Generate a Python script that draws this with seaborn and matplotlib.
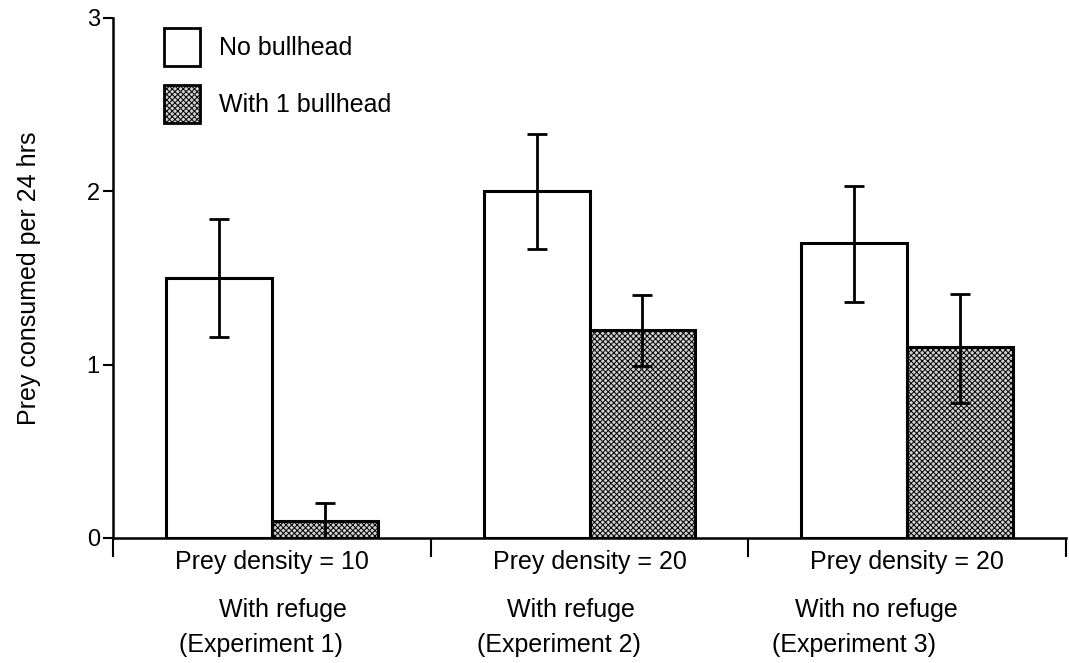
import matplotlib
matplotlib.use("Agg")
import matplotlib.pyplot as plt
from matplotlib.patches import Patch
import numpy as np
import pandas as pd
import seaborn as sns

# Experiments and treatments
experiments = ["Experiment 1", "Experiment 2", "Experiment 3"]
density_labels = ["Prey density = 10", "Prey density = 20", "Prey density = 20"]
refuge_labels = ["With refuge", "With refuge", "With no refuge"]
experiment_labels = ["(Experiment 1)", "(Experiment 2)", "(Experiment 3)"]
treatments = ["No bullhead", "With 1 bullhead"]

# Mean prey consumed per 24 hrs
no_bullhead = [1.5, 2.0, 1.7]
with_bullhead = [0.1, 1.2, 1.1]

# Error bar limits (lower, upper)
no_bullhead_low = [1.16, 1.67, 1.36]
no_bullhead_high = [1.84, 2.33, 2.03]
with_bullhead_low = [0.0, 0.99, 0.78]
with_bullhead_high = [0.20, 1.40, 1.41]

y_ticks = [0, 1, 2, 3]

df = pd.DataFrame({
    "experiment": experiments * 2,
    "treatment": [treatments[0]] * 3 + [treatments[1]] * 3,
    "value": no_bullhead + with_bullhead,
})
lows = [no_bullhead_low, with_bullhead_low]
highs = [no_bullhead_high, with_bullhead_high]

sns.set_theme(style="ticks")
plt.rcParams["font.family"] = ["Liberation Sans", "DejaVu Sans"]
plt.rcParams["text.color"] = "black"
plt.rcParams["axes.labelcolor"] = "black"
plt.rcParams["xtick.color"] = "black"
plt.rcParams["ytick.color"] = "black"
plt.rcParams["axes.edgecolor"] = "black"
plt.rcParams["hatch.linewidth"] = 0.7
plt.rcParams["hatch.color"] = "#333333"

FS = 18

fig = plt.figure(figsize=(10.69, 6.63), dpi=100)
ax = fig.add_axes([113 / 1069, 1 - 538 / 663, (1066 - 113) / 1069, (538 - 18) / 663])

fill = {treatments[0]: "white", treatments[1]: "#d0d0d0"}
sns.barplot(data=df, x="experiment", y="value", hue="treatment",
            order=experiments, hue_order=treatments, palette=fill,
            width=2 / 3, errorbar=None, edgecolor="black", linewidth=2.2,
            saturation=1, legend=False, ax=ax)

bar_groups = list(ax.containers)
for i, container in enumerate(bar_groups):
    for j, bar in enumerate(container.patches):
        if i == 1:
            bar.set_hatch("xxxxxx")
        cx = bar.get_x() + bar.get_width() / 2
        v = bar.get_height()
        ax.errorbar([cx], [v],
                    yerr=[[v - lows[i][j]], [highs[i][j] - v]],
                    fmt="none", ecolor="black", elinewidth=2, capsize=7.5,
                    capthick=2, zorder=5)

ax.set_xlim(-0.5, 2.5)
ax.set_ylim(0, 3)
ax.set_yticks(y_ticks)
ax.set_yticklabels([str(t) for t in y_ticks], fontsize=17)
ax.tick_params(axis="y", direction="out", length=7.5, width=1.5, pad=2)

# group separators on the x axis
ax.set_xticks([-0.5, 0.5, 1.5, 2.5])
ax.set_xticklabels([])
ax.tick_params(axis="x", which="major", direction="out", length=14, width=1.5)
ax.set_xticks([0, 1, 2], minor=True)
ax.set_xticklabels(density_labels, minor=True, fontsize=FS)
ax.tick_params(axis="x", which="minor", length=0, pad=9)
ax.set_xlabel("")
ax.set_ylabel("Prey consumed per 24 hrs", fontsize=FS, labelpad=33)

for s in ["top", "right"]:
    ax.spines[s].set_visible(False)
for s in ["left", "bottom"]:
    ax.spines[s].set_linewidth(1.8)

trans = ax.get_xaxis_transform()
refuge_offsets = [0.035, -0.057, -0.097]
exp_offsets = [-0.035, -0.097, -0.167]
for k in range(3):
    ax.text(k + refuge_offsets[k], -0.138, refuge_labels[k], transform=trans,
            ha="center", va="center", fontsize=FS)
    ax.text(k + exp_offsets[k], -0.206, experiment_labels[k], transform=trans,
            ha="center", va="center", fontsize=FS)

handles = [
    Patch(facecolor="white", edgecolor="black", linewidth=2),
    Patch(facecolor="#d0d0d0", edgecolor="black", linewidth=2, hatch="xxxxxx"),
]
ax.legend(handles, treatments, loc="upper left", bbox_to_anchor=(0.043, 1.0),
          frameon=False, fontsize=FS, handlelength=1.45, handleheight=1.95,
          labelspacing=0.76, handletextpad=0.75, borderaxespad=0)

fig.savefig("out.png", dpi=100)
